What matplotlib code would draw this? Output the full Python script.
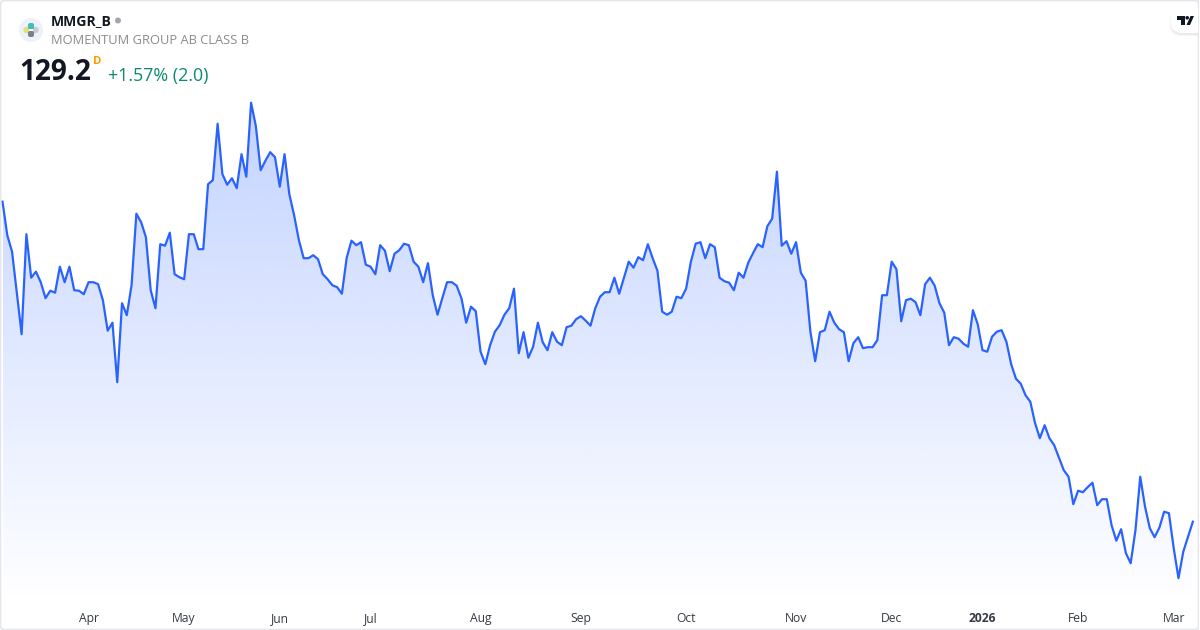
import numpy as np
import matplotlib
matplotlib.use('Agg')
import matplotlib.pyplot as plt
from matplotlib.patches import Circle, FancyBboxPatch, Polygon, Rectangle
from matplotlib.colors import LinearSegmentedColormap

# closing prices
prices = [
    193.2, 186.5, 183.2, 175.0, 166.7, 186.7, 178.0, 179.2, 177.1, 173.9,
    175.4, 175.0, 180.2, 177.1, 180.2, 175.5, 175.4, 174.7, 177.1, 177.1,
    176.7, 173.5, 167.4, 169.0, 157.1, 172.9, 170.5, 176.5, 190.8, 189.1,
    186.1, 175.5, 171.9, 184.7, 184.4, 187.0, 178.7, 178.1, 177.7, 186.7,
    186.7, 183.7, 183.7, 196.7, 197.5, 208.8, 198.7, 196.6, 197.9, 195.9,
    202.7, 198.2, 213.0, 208.3, 199.5, 201.4, 203.1, 202.1, 196.2, 202.7,
    194.7, 190.5, 185.5, 181.9, 181.9, 182.5, 181.7, 178.7, 177.7, 176.5,
    176.1, 174.8, 182.0, 185.4, 184.5, 185.1, 180.6, 180.2, 178.7, 184.5,
    183.4, 179.3, 182.8, 183.5, 184.8, 184.5, 181.2, 180.2, 177.1, 180.9,
    174.5, 170.6, 173.9, 177.1, 177.1, 176.4, 173.9, 169.0, 172.2, 171.3,
    163.2, 160.7, 164.5, 167.2, 168.5, 170.6, 171.9, 175.8, 162.9, 167.1,
    162.0, 164.2, 169.0, 165.1, 163.5, 167.1, 165.2, 164.5, 168.1, 168.4,
    169.7, 170.3, 169.4, 168.4, 171.9, 174.2, 175.1, 175.1, 178.0, 174.8,
    178.0, 181.2, 180.0, 182.1, 181.5, 184.7, 181.9, 179.4, 171.2, 170.6,
    171.2, 174.2, 173.9, 175.8, 181.2, 184.8, 185.1, 181.9, 184.7, 184.1,
    178.0, 177.3, 177.0, 175.5, 179.0, 178.0, 181.0, 182.9, 184.7, 184.1,
    188.3, 189.8, 199.2, 184.4, 185.3, 182.8, 185.1, 179.0, 177.4, 167.2,
    161.3, 167.1, 167.5, 171.2, 169.0, 167.7, 167.1, 161.3, 164.9, 166.1,
    163.9, 164.1, 164.1, 165.5, 174.5, 174.5, 181.2, 179.7, 169.3, 173.5,
    173.8, 173.1, 170.5, 176.7, 178.0, 176.4, 172.9, 171.0, 164.5, 166.1,
    165.8, 164.8, 164.2, 171.5, 168.7, 163.5, 163.2, 166.2, 167.2, 167.5,
    165.2, 160.7, 157.8, 156.8, 154.5, 153.2, 148.9, 145.9, 148.5, 145.9,
    144.5, 142.0, 139.5, 138.2, 132.7, 135.4, 135.1, 136.1, 137.0, 132.5,
    133.7, 133.7, 128.5, 125.4, 127.7, 122.9, 120.9, 127.5, 138.2, 132.2,
    127.9, 126.1, 128.0, 131.2, 130.9, 123.9, 117.9, 123.2, 126.2, 129.2,
]
tick_pos = [18, 38, 58, 77, 100, 121, 143, 166, 186, 205, 225, 245]
tick_labels = ['Apr', 'May', 'Jun', 'Jul', 'Aug', 'Sep', 'Oct', 'Nov', 'Dec', '2026', 'Feb', 'Mar']

plt.rcParams['font.family'] = ['Open Sans', 'DejaVu Sans']

x = np.arange(len(prices))
fig = plt.figure(figsize=(12, 6.3), dpi=100, facecolor='white')

# main chart, bottom edge at pixel row 604
ax = fig.add_axes([0, 26 / 630, 1, 604 / 630])
ax.set_xlim(-0.523, 250.5)
ax.set_ylim(112.74, 233.54)
for s in ax.spines.values():
    s.set_visible(False)
ax.yaxis.set_visible(False)
ax.patch.set_alpha(0)

cmap = LinearSegmentedColormap.from_list('fade', [(41 / 255, 98 / 255, 1, 0.28), (41 / 255, 98 / 255, 1, 0.0)])
grad = np.linspace(0, 1, 256).reshape(-1, 1)
im = ax.imshow(grad, cmap=cmap, aspect='auto', vmin=0, vmax=1, interpolation='bilinear',
               extent=[0, x[-1], 112.74, max(prices)], zorder=1)
poly = ax.fill_between(x, prices, 112.74, color='none')
im.set_clip_path(poly.get_paths()[0], transform=ax.transData)
ax.plot(x, prices, color='#2962FF', lw=1.6, solid_joinstyle='round', zorder=2)
ax.set_xlim(-0.523, 250.5)
ax.set_ylim(112.74, 233.54)

ax.set_xticks(tick_pos)
ax.set_xticklabels(tick_labels, fontsize=8.7, color='#363A45', va='baseline')
ax.tick_params(axis='x', length=0, pad=13)
ax.get_xticklabels()[tick_labels.index('2026')].set_fontweight('bold')

# overlay in pixel coordinates for header and logos
ov = fig.add_axes([0, 0, 1, 1])
ov.set_xlim(0, 1200)
ov.set_ylim(630, 0)
ov.axis('off')
ov.patch.set_alpha(0)

ov.add_patch(FancyBboxPatch((0.5, 0.5), 1198, 629, boxstyle='round,pad=0,rounding_size=4',
                            fc='none', ec='#E4E6EB', lw=1.2))

# symbol logo
ov.add_patch(Circle((31, 30), 12, fc='#EEF1F8', ec='none'))
ov.add_patch(Circle((26.5, 30), 3.2, fc='#DDE07A', ec='none'))
ov.add_patch(Circle((35.5, 30), 3.2, fc='#C9CCD2', ec='none'))
ov.add_patch(FancyBboxPatch((28, 23), 6, 6.5, boxstyle='round,pad=0,rounding_size=2', fc='#3FBFB5', ec='none'))
ov.add_patch(FancyBboxPatch((28, 31), 6, 6, boxstyle='round,pad=0,rounding_size=2', fc='#7A8089', ec='none'))
ov.add_patch(Rectangle((29, 29.2), 4, 2, fc='white', ec='none'))

ov.text(51, 21, 'MMGR_B', fontsize=10.1, fontweight='bold', color='#131722', va='center', ha='left')
ov.add_patch(Circle((118, 20.5), 3, fc='#A3A6AF', ec='none'))
ov.text(51, 41, 'MOMENTUM GROUP AB CLASS B', fontsize=9.3, color='#8A8A8A', va='center', ha='left')
ov.text(19, 72.5, '129.2', fontsize=20.2, fontweight='bold', color='#131722', va='center', ha='left')
ov.text(93, 61.5, 'D', fontsize=8.2, fontweight='bold', color='#FF9800', va='center', ha='left')
ov.text(108, 75.5, '+1.57% (2.0)', fontsize=12.9, color='#0A8A6F', va='center', ha='left')

# TradingView tab
for i, a in enumerate([0.02, 0.03, 0.04]):
    ov.add_patch(FancyBboxPatch((1172 - i, 10), 40 + i, 24 + i, boxstyle='round,pad=0,rounding_size=11',
                                fc='black', ec='none', alpha=a))
ov.add_patch(FancyBboxPatch((1171, 8), 40, 25, boxstyle='round,pad=0,rounding_size=11', fc='white', ec='none'))
ov.add_patch(Rectangle((1199, 0), 1, 630, fc='white', ec='none'))
ov.add_patch(Rectangle((1198, 0), 1, 630, fc='#E4E6EB', ec='none'))
ov.add_patch(Polygon([(1177, 16), (1185, 16), (1185, 25), (1181, 25), (1181, 19.5), (1177, 19.5)], fc='#131722', ec='none'))
ov.add_patch(Circle((1187.2, 17.8), 1.8, fc='#131722', ec='none'))
ov.add_patch(Polygon([(1186.5, 25), (1190.5, 16), (1194, 16), (1190, 25)], fc='#131722', ec='none'))

fig.savefig('out.png', dpi=100)
